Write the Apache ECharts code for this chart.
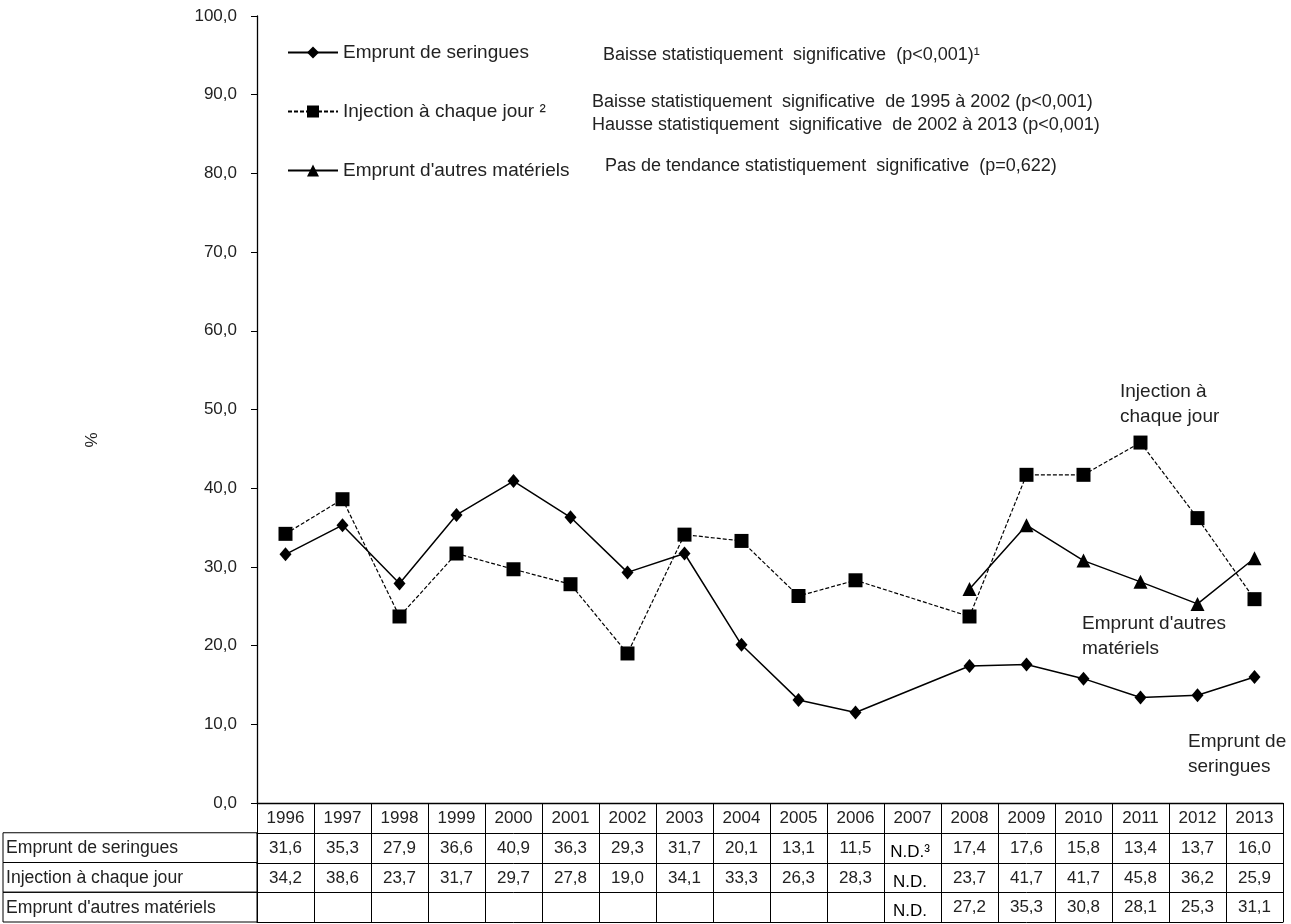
<!DOCTYPE html>
<html>
<head>
<meta charset="utf-8">
<script src="https://cdn.jsdelivr.net/npm/echarts@6/dist/echarts.min.js"></script>
<style>
html,body{margin:0;padding:0;background:#fff;}
#c{width:1291px;height:924px;}
</style>
</head>
<body>
<div id="c"></div>
<script>
var years = ['1996','1997','1998','1999','2000','2001','2002','2003','2004','2005','2006','2007','2008','2009','2010','2011','2012','2013'];
var seringues = [31.6,35.3,27.9,36.6,40.9,36.3,29.3,31.7,20.1,13.1,11.5,null,17.4,17.6,15.8,13.4,13.7,16.0];
var injection = [34.2,38.6,23.7,31.7,29.7,27.8,19.0,34.1,33.3,26.3,28.3,null,23.7,41.7,41.7,45.8,36.2,25.9];
var autres = [null,null,null,null,null,null,null,null,null,null,null,null,27.2,35.3,30.8,28.1,25.3,31.1];
var seriesNames = ['Emprunt de seringues','Injection à chaque jour',"Emprunt d'autres matériels"];
var ndLabels = ['N.D.³','N.D.','N.D.'];
var trendTexts = [
  'Baisse statistiquement  significative  (p<0,001)¹',
  'Baisse statistiquement  significative  de 1995 à 2002 (p<0,001)',
  'Hausse statistiquement  significative  de 2002 à 2013 (p<0,001)',
  'Pas de tendance statistiquement  significative  (p=0,622)'
];
var yTicks = {min:0, max:100, interval:10};

var FONT = '"Liberation Sans", Arial, sans-serif';
var TXT = '#222';
var W = 1291, H = 924;
var gridLeft = 257, gridRight = 8, gridTop = 16, gridBottom = 121;
var rowH = 29.75;
var axisY = H - gridBottom;

function fmt(v){ return v == null ? '' : v.toFixed(1).replace('.', ','); }

var rows = [seringues, injection, autres];
var xAxes = [{
  type:'category', data: years, gridIndex:0, position:'bottom',
  boundaryGap:true,
  axisLine:{show:true, lineStyle:{color:'#000', width:1.3}},
  axisTick:{show:true, interval:0, length: rowH*4, lineStyle:{color:'#000', width:1}},
  axisLabel:{interval:0, margin:7, fontSize:17, color:TXT, fontFamily:FONT}
}];
rows.forEach(function(arr, ri){
  xAxes.push({
    type:'category', data: years, gridIndex:0, position:'bottom',
    offset: Math.round(rowH*(ri+1)),
    boundaryGap:true,
    axisLine:{show:true, lineStyle:{color:'#000', width:1}},
    axisTick:{show:false},
    axisLabel:{interval:0, margin:7, fontSize:17, color:TXT, fontFamily:FONT,
      formatter:function(val, idx){
        var v = arr[idx];
        if (v == null && years[idx] === '2007') return '{nd|' + ndLabels[ri] + '}';
        return fmt(v);
      },
      rich:{nd:{fontSize:17, color:'#000', fontFamily:'"Liberation Sans", Arial, sans-serif', padding:[4,5,0,0]}}
    }
  });
});
xAxes.push({
  type:'category', data: years, gridIndex:0, position:'bottom',
  offset: Math.round(rowH*4),
  axisLine:{show:true, lineStyle:{color:'#000', width:1}},
  axisTick:{show:false}, axisLabel:{show:false}
});

var graphics = [];
// row label column of the table
var labelLeft = 3;
for (var i = 0; i < 3; i++){
  var y0 = axisY + rowH*(i+1);
  graphics.push({type:'rect', shape:{x:labelLeft, y:y0, width:gridLeft-labelLeft, height:rowH},
    style:{fill:'none', stroke:'#000', lineWidth:1}, silent:true});
  graphics.push({type:'text', x:labelLeft+3, y:y0+rowH/2+1,
    style:{text:seriesNames[i], font:'17.6px ' + FONT, fill:TXT, verticalAlign:'middle'}});
}
// y axis name
graphics.push({type:'text', x:92, y:440, rotation:Math.PI/2,
  style:{text:'%', font:'17px ' + FONT, fill:TXT, align:'center', verticalAlign:'middle'}});
// trend texts
var trendPos = [[603,55],[592,102],[592,125],[605,166]];
trendTexts.forEach(function(t, i){
  graphics.push({type:'text', x:trendPos[i][0], y:trendPos[i][1],
    style:{text:t, font:'18px ' + FONT, fill:TXT, verticalAlign:'middle'}});
});
// line annotations
var ann = [
  ['Injection à\nchaque jour', 1120, 379],
  ["Emprunt d'autres\nmatériels", 1082, 611],
  ['Emprunt de\nseringues', 1188, 729]
];
ann.forEach(function(a){
  graphics.push({type:'text', x:a[1], y:a[2],
    style:{text:a[0], font:'19px ' + FONT, fill:TXT, lineHeight:25}});
});

var chart = echarts.init(document.getElementById('c'), null, {renderer:'canvas'});
chart.setOption({
  animation:false,
  backgroundColor:'#fff',
  grid:{left:gridLeft, right:gridRight, top:gridTop, bottom:gridBottom, containLabel:false},
  legend:{
    orient:'vertical', left:282, top:38, itemWidth:50, itemHeight:15, itemGap:40,
    data: seriesNames,
    textStyle:{fontSize:19, color:TXT, fontFamily:FONT},
    formatter:function(n){ return n === 'Injection à chaque jour' ? n + ' ²' : n; },
    selectedMode:false
  },
  xAxis: xAxes,
  yAxis:{
    type:'value', min:yTicks.min, max:yTicks.max, interval:yTicks.interval,
    axisLine:{show:true, lineStyle:{color:'#000', width:1.3}},
    axisTick:{show:true, length:6, lineStyle:{color:'#000'}},
    splitLine:{show:false},
    axisLabel:{margin:20, fontSize:17, color:TXT, fontFamily:FONT, formatter:function(v){return fmt(v);}}
  },
  series:[
    {name:seriesNames[0], type:'line', data:seringues, connectNulls:true,
     symbol:'diamond', symbolSize:[12,14], itemStyle:{color:'#000'},
     lineStyle:{color:'#000', width:1.5, type:'solid'}},
    {name:seriesNames[1], type:'line', data:injection, connectNulls:true,
     symbol:'rect', symbolSize:14, itemStyle:{color:'#000'},
     lineStyle:{color:'#000', width:1.2, type:[4,2]}},
    {name:seriesNames[2], type:'line', data:autres, connectNulls:true,
     symbol:'triangle', symbolSize:14, itemStyle:{color:'#000'},
     lineStyle:{color:'#000', width:1.5, type:'solid'}}
  ],
  graphic: graphics
});
</script>
</body>
</html>
